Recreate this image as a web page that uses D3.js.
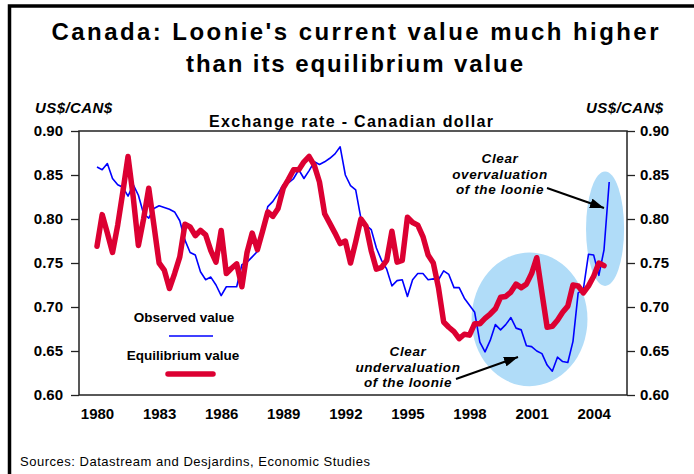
<!DOCTYPE html>
<html><head><meta charset="utf-8">
<script src="https://cdn.jsdelivr.net/npm/d3@7"></script>
<style>
body{margin:0;background:#fff;}
svg{display:block;font-family:"Liberation Sans",Arial,sans-serif;}
</style>
</head><body>
<svg id="chart" width="694" height="474"></svg>
<script>
// ---- data (quarterly, first point = 1980 Q1) ----
const startYear = 1980;
const observed = [
  0.859,0.856,0.863,0.846,0.839,0.836,0.826,0.839,0.827,0.806,0.801,0.812,0.815,0.813,0.811,0.808,0.798,0.776,0.762,0.759,0.740,0.731,0.734,0.725,0.713,
  0.723,0.723,0.723,0.748,0.751,0.757,0.763,0.789,0.814,0.820,0.829,0.839,0.841,0.846,0.856,0.846,0.855,0.865,0.862,0.865,0.869,0.874,0.882,0.850,0.838,
  0.833,0.801,0.793,0.788,0.767,0.753,0.743,0.724,0.730,0.731,0.712,0.731,0.738,0.738,0.731,0.732,0.731,0.741,0.737,0.722,0.722,0.710,0.702,0.694,0.660,
  0.649,0.662,0.680,0.674,0.680,0.688,0.676,0.674,0.656,0.655,0.650,0.647,0.634,0.627,0.643,0.638,0.637,0.661,0.716,0.720,0.760,0.759,0.736,0.765,0.842
];
const equilibrium = [
  0.769,0.805,0.784,0.762,0.793,0.831,0.871,0.825,0.770,0.800,0.835,0.793,0.750,0.742,0.721,0.738,0.757,0.794,0.791,0.781,0.787,0.782,0.764,0.751,0.787,
  0.738,0.744,0.749,0.723,0.762,0.784,0.765,0.786,0.808,0.803,0.812,0.835,0.845,0.856,0.856,0.865,0.871,0.861,0.842,0.806,0.795,0.784,0.772,0.775,0.750,
  0.774,0.800,0.792,0.764,0.743,0.745,0.753,0.786,0.751,0.753,0.802,0.796,0.793,0.780,0.759,0.750,0.722,0.683,0.677,0.672,0.664,0.669,0.668,0.681,0.681,
  0.687,0.692,0.698,0.711,0.712,0.717,0.726,0.722,0.726,0.738,0.756,0.716,0.677,0.678,0.685,0.694,0.701,0.725,0.724,0.716,0.724,0.735,0.750,0.747
];
const yearTicks = [1980,1983,1986,1989,1992,1995,1998,2001,2004];
const rateTicks = [0.60,0.65,0.70,0.75,0.80,0.85,0.90];
const titleLines = ["Canada: Loonie's current value much higher","than its equilibrium value"];
const seriesNames = ["Observed value","Equilibrium value"];
const underLabel = ["Clear","undervaluation","of the loonie"];
const overLabel = ["Clear","overvaluation","of the loonie"];
// highlighted zones (in data units): centre year, centre rate, half-width years, half-height rate
const zones = [
  {cx:2000.9, cy:0.686, rx:2.8, ry:0.076},
  {cx:2004.55, cy:0.789, rx:0.92, ry:0.065}
];

const RED = "#dc0032", BLUE = "#0000ff", ZONE = "#b0dcf8";
const svg = d3.select("#chart");

const x = d3.scaleLinear().domain([1980, 2004.75]).range([97, 609.2]);
const y = d3.scaleLinear().domain([0.60, 0.90]).range([395, 131]);
const plot = {l:79, r:627, t:131, b:395};

const obsPts = observed.map((v,i)=>({t:startYear+i/4, v}));
const eqPts = equilibrium.map((v,i)=>({t:startYear+i/4, v}));

// frame
svg.append("rect").attr("x",9.5).attr("y",6).attr("width",720).attr("height",500)
  .attr("fill","none").attr("stroke","#000").attr("stroke-width",3.5);

// titles
svg.append("text").attr("x",355).attr("y",40).attr("text-anchor","middle")
  .attr("font-size",24).attr("font-weight","bold").attr("textLength",607).attr("lengthAdjust","spacing")
  .text(titleLines[0]);
svg.append("text").attr("x",354.5).attr("y",72).attr("text-anchor","middle")
  .attr("font-size",24).attr("font-weight","bold").attr("textLength",337).attr("lengthAdjust","spacing")
  .text(titleLines[1]);

svg.append("text").attr("x",35).attr("y",113).attr("font-size",15).attr("font-weight","bold")
  .attr("font-style","italic").attr("textLength",77).attr("lengthAdjust","spacing").text("US$/CAN$");
svg.append("text").attr("x",586).attr("y",113).attr("font-size",15).attr("font-weight","bold")
  .attr("font-style","italic").attr("textLength",77).attr("lengthAdjust","spacing").text("US$/CAN$");
svg.append("text").attr("x",351).attr("y",127).attr("text-anchor","middle").attr("font-size",16)
  .attr("font-weight","bold").attr("textLength",284).attr("lengthAdjust","spacing")
  .text("Exchange rate - Canadian dollar");

// zones
svg.append("g").selectAll("ellipse").data(zones).join("ellipse")
  .attr("cx",d=>x(d.cx)).attr("cy",d=>y(d.cy))
  .attr("rx",d=>x(d.cx+d.rx)-x(d.cx)).attr("ry",d=>y(d.cy-d.ry)-y(d.cy))
  .attr("fill",ZONE);

// plot box
svg.append("rect").attr("x",plot.l).attr("y",plot.t).attr("width",plot.r-plot.l).attr("height",plot.b-plot.t)
  .attr("fill","none").attr("stroke","#222").attr("stroke-width",1.5);

// axes
const styleAxis = g => {
  g.select(".domain").remove();
  g.selectAll("line").attr("stroke","#222").attr("stroke-width",1.3);
  g.selectAll("text").attr("font-size",15).attr("font-weight","bold").attr("fill","#000")
    .attr("font-family","'Liberation Sans',Arial,sans-serif");
};
svg.append("g").attr("transform",`translate(${plot.l},0)`)
  .call(d3.axisLeft(y).tickValues(rateTicks).tickFormat(d3.format(".2f")).tickSize(8).tickPadding(8))
  .call(styleAxis);
svg.append("g").attr("transform",`translate(${plot.r},0)`)
  .call(d3.axisRight(y).tickValues(rateTicks).tickFormat(d3.format(".2f")).tickSize(8).tickPadding(5))
  .call(styleAxis);
svg.append("g").attr("transform",`translate(0,${plot.b})`)
  .call(d3.axisBottom(x).tickValues(yearTicks).tickFormat(d3.format("d")).tickSize(0).tickPadding(13.5))
  .call(styleAxis);

// lines
const line = d3.line().x(d=>x(d.t)).y(d=>y(d.v));
svg.append("path").datum(obsPts).attr("d",line).attr("fill","none")
  .attr("stroke",BLUE).attr("stroke-width",1.6).attr("stroke-linejoin","round");
svg.append("path").datum(eqPts).attr("d",line).attr("fill","none")
  .attr("stroke",RED).attr("stroke-width",5.5).attr("stroke-linejoin","round").attr("stroke-linecap","round");

// legend
const lg = svg.append("g").attr("font-size",13.5).attr("font-weight","bold").attr("text-anchor","middle");
lg.append("text").attr("x",184).attr("y",322).text(seriesNames[0]);
lg.append("line").attr("x1",169).attr("x2",213).attr("y1",336).attr("y2",336).attr("stroke",BLUE).attr("stroke-width",1.6);
lg.append("text").attr("x",183).attr("y",360).text(seriesNames[1]);
lg.append("line").attr("x1",168).attr("x2",213).attr("y1",374).attr("y2",374).attr("stroke",RED)
  .attr("stroke-width",5.5).attr("stroke-linecap","round");

// annotations
const ann = (lines, cx, y0) => {
  const g = svg.append("g").attr("font-size",13.5).attr("font-weight","bold").attr("font-style","italic")
    .attr("text-anchor","middle").attr("letter-spacing",0.6);
  lines.forEach((t,i)=> g.append("text").attr("x",cx).attr("y",y0+i*15.5).text(t));
};
ann(overLabel, 500, 163);
ann(underLabel, 408, 356);

svg.append("defs").append("marker").attr("id","ah").attr("markerUnits","userSpaceOnUse")
  .attr("markerWidth",14).attr("markerHeight",10).attr("refX",14).attr("refY",5).attr("orient","auto")
  .append("path").attr("d","M0,0 L14,5 L0,10 Z").attr("fill","#000");
svg.append("line").attr("x1",547).attr("y1",188).attr("x2",604).attr("y2",208)
  .attr("stroke","#000").attr("stroke-width",2).attr("marker-end","url(#ah)");
svg.append("line").attr("x1",456).attr("y1",379).attr("x2",518).attr("y2",357)
  .attr("stroke","#000").attr("stroke-width",2).attr("marker-end","url(#ah)");

// source
svg.append("text").attr("x",20).attr("y",466).attr("font-size",13).attr("textLength",350)
  .attr("lengthAdjust","spacing").text("Sources: Datastream and Desjardins, Economic Studies");
</script>
</body></html>
